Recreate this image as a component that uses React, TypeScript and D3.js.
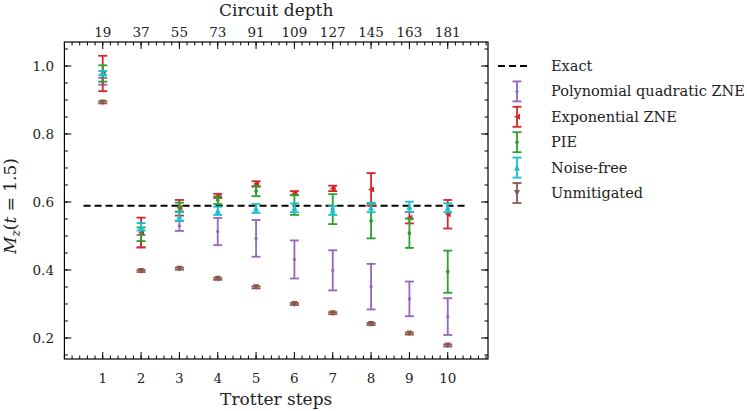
import React from 'react';
import * as d3 from 'd3';

const steps = [1, 2, 3, 4, 5, 6, 7, 8, 9, 10];
const depths = [19, 37, 55, 73, 91, 109, 127, 145, 163, 181];
const exactValue = 0.589;

const polyMean = [0.955, 0.485, 0.53, 0.513, 0.493, 0.431, 0.399, 0.351, 0.315, 0.263];
const polyErr = [0.01, 0.018, 0.015, 0.04, 0.054, 0.056, 0.059, 0.067, 0.051, 0.054];
const expMean = [0.978, 0.51, 0.583, 0.618, 0.653, 0.626, 0.64, 0.637, 0.554, 0.564];
const expErr = [0.052, 0.044, 0.023, 0.006, 0.008, 0.006, 0.008, 0.048, 0.017, 0.042];
const pieMean = [0.978, 0.505, 0.585, 0.605, 0.632, 0.591, 0.579, 0.544, 0.508, 0.395];
const pieErr = [0.024, 0.02, 0.013, 0.011, 0.015, 0.029, 0.044, 0.051, 0.043, 0.062];
const freeMean = [0.979, 0.527, 0.557, 0.574, 0.581, 0.583, 0.575, 0.584, 0.586, 0.583];
const freeErr = [0.006, 0.011, 0.013, 0.012, 0.013, 0.013, 0.013, 0.014, 0.015, 0.013];
const rawMean = [0.893, 0.397, 0.404, 0.374, 0.349, 0.3, 0.273, 0.241, 0.213, 0.178];
const rawErr = [0.003, 0.003, 0.003, 0.003, 0.003, 0.003, 0.003, 0.003, 0.003, 0.003];

const series = [
  { name: 'Polynomial quadratic ZNE', color: '#9467bd', marker: 'dot', mean: polyMean, err: polyErr },
  { name: 'Exponential ZNE', color: '#d62728', marker: 'left', mean: expMean, err: expErr },
  { name: 'PIE', color: '#2ca02c', marker: 'diamond', mean: pieMean, err: pieErr },
  { name: 'Noise-free', color: '#17becf', marker: 'up', mean: freeMean, err: freeErr },
  { name: 'Unmitigated', color: '#8c564b', marker: 'down', mean: rawMean, err: rawErr },
];

const W = 747;
const H = 411;
const left = 64.4;
const right = 488;
const top = 42;
const bottom = 359;
const font = '"DejaVu Serif", "Liberation Serif", serif';

const Marker = ({ kind, x, y, color }: { kind: string; x: number; y: number; color: string }) => {
  const s = 3;
  if (kind === 'dot') return <circle cx={x} cy={y} r={1.6} fill={color} />;
  if (kind === 'diamond')
    return <path d={`M${x},${y - s}L${x + s * 0.7},${y}L${x},${y + s}L${x - s * 0.7},${y}Z`} fill={color} />;
  if (kind === 'left')
    return <path d={`M${x - s},${y}L${x + s},${y - s}L${x + s},${y + s}Z`} fill={color} />;
  if (kind === 'up')
    return <path d={`M${x},${y - s}L${x + s},${y + s}L${x - s},${y + s}Z`} fill={color} />;
  return <path d={`M${x},${y + s}L${x + s},${y - s}L${x - s},${y - s}Z`} fill={color} />;
};

const ErrBar = ({ x, y0, y1, color }: { x: number; y0: number; y1: number; color: string }) => {
  const cw = 4.5;
  return (
    <g stroke={color} strokeWidth={1.8} fill="none">
      <line x1={x} x2={x} y1={y0} y2={y1} />
      <line x1={x - cw} x2={x + cw} y1={y0} y2={y0} />
      <line x1={x - cw} x2={x + cw} y1={y1} y2={y1} />
    </g>
  );
};

export default function App() {
  const x = d3.scaleLinear().domain([0, 11.05]).range([left, right]);
  const y = d3.scaleLinear().domain([0.1382, 1.0706]).range([bottom, top]);

  const xMinor = d3.range(0, 11.01, 0.2).map(v => +v.toFixed(2));
  const yMajor = [0.2, 0.4, 0.6, 0.8, 1.0];
  const yMinor = d3.range(0.15, 1.06, 0.05).map(v => +v.toFixed(2));

  const legendX = 517;
  const legendY0 = 66;
  const legendDy = 25.4;

  return (
    <svg width={W} height={H} style={{ position: 'absolute', left: 0, top: 0, background: '#fff' }}>
      {/* exact value */}
      <line x1={x(0.5)} x2={x(10.5)} y1={y(exactValue)} y2={y(exactValue)}
        stroke="#000" strokeWidth={2} strokeDasharray="7,4" />

      {series.map(s => (
        <g key={s.name}>
          {steps.map((st, i) => (
            <g key={st}>
              <ErrBar x={x(st)} y0={y(s.mean[i] + s.err[i])} y1={y(s.mean[i] - s.err[i])} color={s.color} />
              <Marker kind={s.marker} x={x(st)} y={y(s.mean[i])} color={s.color} />
            </g>
          ))}
        </g>
      ))}

      {/* frame & ticks */}
      <rect x={left} y={top} width={right - left} height={bottom - top} fill="none" stroke="#000" strokeWidth={1.2} />
      <g stroke="#000" strokeWidth={1}>
        {xMinor.map(v => (
          <g key={v}>
            <line x1={x(v)} x2={x(v)} y1={bottom} y2={bottom - 3.5} />
            <line x1={x(v)} x2={x(v)} y1={top} y2={top + 3.5} />
          </g>
        ))}
        {steps.map(v => (
          <g key={v}>
            <line x1={x(v)} x2={x(v)} y1={bottom} y2={bottom - 7} />
            <line x1={x(v)} x2={x(v)} y1={top} y2={top + 7} />
          </g>
        ))}
        {yMinor.map(v => (
          <g key={v}>
            <line x1={left} x2={left + 3.5} y1={y(v)} y2={y(v)} />
            <line x1={right} x2={right - 3.5} y1={y(v)} y2={y(v)} />
          </g>
        ))}
        {yMajor.map(v => (
          <g key={v}>
            <line x1={left} x2={left + 7} y1={y(v)} y2={y(v)} />
            <line x1={right} x2={right - 7} y1={y(v)} y2={y(v)} />
          </g>
        ))}
      </g>

      <g fontFamily={font} fontSize={13.5} fill="#222">
        {steps.map(v => (
          <text key={v} x={x(v)} y={383} textAnchor="middle">{v}</text>
        ))}
        {steps.map((v, i) => (
          <text key={v} x={x(v)} y={36.5} textAnchor="middle">{depths[i]}</text>
        ))}
        {yMajor.map(v => (
          <text key={v} x={54} y={y(v) + 5} textAnchor="end">{v.toFixed(1)}</text>
        ))}
      </g>

      <text x={(left + right) / 2} y={405} textAnchor="middle" fontFamily={font} fontSize={17} fill="#222">Trotter steps</text>
      <text x={(left + right) / 2} y={16} textAnchor="middle" fontFamily={font} fontSize={17} fill="#222">Circuit depth</text>
      <text transform={`translate(16,${206}) rotate(-90)`} textAnchor="middle"
        fontFamily={font} fontSize={17} fill="#222">
        <tspan fontStyle="italic">M</tspan>
        <tspan fontStyle="italic" fontSize={12} dy={4}>z</tspan>
        <tspan dy={-4}>(</tspan>
        <tspan fontStyle="italic">t</tspan>
        <tspan> = 1.5)</tspan>
      </text>

      {/* legend */}
      <g fontFamily={font} fontSize={14.5} fill="#222">
        <line x1={498} x2={531} y1={legendY0} y2={legendY0} stroke="#000" strokeWidth={2} strokeDasharray="7,4" />
        <text x={551} y={legendY0 + 5}>Exact</text>
        {series.map((s, i) => {
          const cy = legendY0 + legendDy * (i + 1);
          return (
            <g key={s.name}>
              <ErrBar x={legendX} y0={cy - 10} y1={cy + 10} color={s.color} />
              <Marker kind={s.marker} x={legendX} y={cy} color={s.color} />
              <text x={551} y={cy + 5}>{s.name}</text>
            </g>
          );
        })}
      </g>
    </svg>
  );
}
